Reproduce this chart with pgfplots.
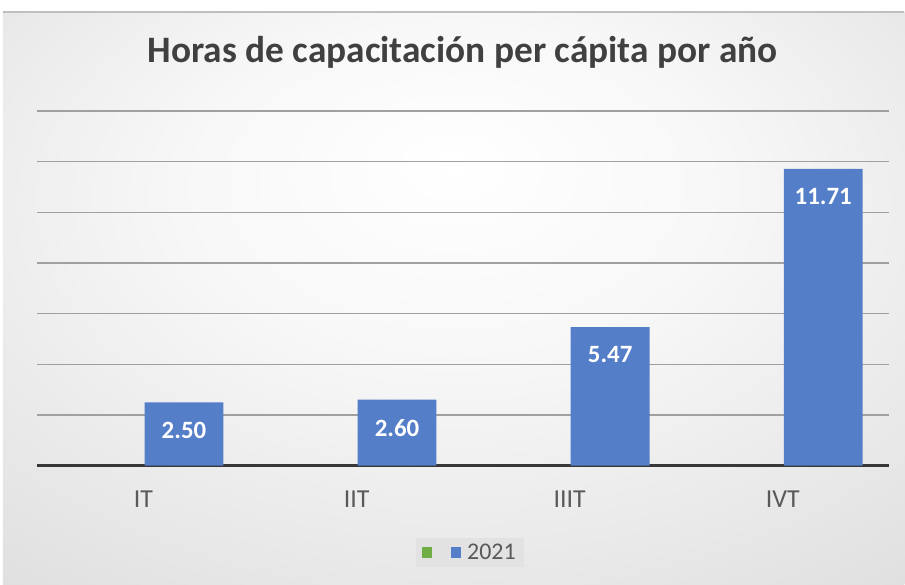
\documentclass[border=0pt]{standalone}
\usepackage{pgfplots}
\pgfplotsset{compat=1.18}
\usepackage{fontspec}
\setmainfont{Carlito}
\definecolor{barblue}{RGB}{84,126,200}
\definecolor{bargreen}{RGB}{112,173,71}
\definecolor{titlegray}{RGB}{64,64,64}
\definecolor{labelgray}{RGB}{89,89,89}
\definecolor{gridgray}{RGB}{160,160,160}
\definecolor{axisgray}{RGB}{55,55,55}
\definecolor{legbg}{RGB}{226,226,226}
\pgfdeclareradialshading{chartbg}{\pgfpoint{0bp}{12bp}}{color(0bp)=(white); color(15bp)=(white!97!black); color(55bp)=(white!82!black); color(75bp)=(white!78!black)}
\begin{document}
\begin{tikzpicture}[x=1bp,y=1bp]
\fill[white] (-37,-119) rectangle (868,466);
\shade[shading=chartbg] (-34,-119) rectangle (868,454);
\draw[white!75!black, line width=1.5bp] (-34,454) -- (868,454);
\begin{axis}[
  at={(0,0)}, anchor=south west,
  scale only axis, width=853bp, height=355bp,
  xmin=-0.5, xmax=3.5, ymin=0, ymax=14,
  ybar, bar width=0.37, bar shift=0.19,
  legend image code/.code={\fill[#1] (0bp,-5.5bp) rectangle (10bp,5.5bp);},
  xtick={0,1,2,3}, xticklabels={IT,IIT,IIIT,IVT},
  xtick style={draw=none},
  ytick={0,2,...,14}, yticklabels={}, ytick style={draw=none},
  ymajorgrids, major grid style={gridgray, line width=1.3bp},
  axis x line*=bottom, axis y line*=left,
  y axis line style={draw=none},
  x axis line style={line width=2.8bp, color=axisgray},
  xticklabel style={font=\fontsize{26}{30}\selectfont, text=labelgray, yshift=-18bp},
  nodes near coords={\pgfmathprintnumber[fixed,fixed zerofill,precision=2,assume math mode=true]{\pgfplotspointmeta}},
  nodes near coords style={font=\bfseries\fontsize{25}{28}\selectfont, text=white, anchor=center, yshift=-28bp},
  legend style={at={(0.508,-0.245)}, anchor=center, legend columns=2, draw=none,
    fill=legbg, inner xsep=6bp, inner ysep=4bp,
    font=\fontsize{24}{28}\selectfont, text=labelgray,
    /tikz/every even column/.append style={column sep=9bp}},
]
\addlegendimage{fill=bargreen, draw=none}
\addlegendentry{\hspace*{6bp}}
\addplot[fill=barblue, draw=none] coordinates {(0,2.50) (1,2.60) (2,5.47) (3,11.71)};
\addlegendentry{\hspace*{4bp}2021}
\end{axis}
\node[anchor=base, font=\bfseries\fontsize{37.5}{42}\selectfont, text=titlegray] at (426,403) {Horas de capacitación per cápita por año};
\end{tikzpicture}
\end{document}
